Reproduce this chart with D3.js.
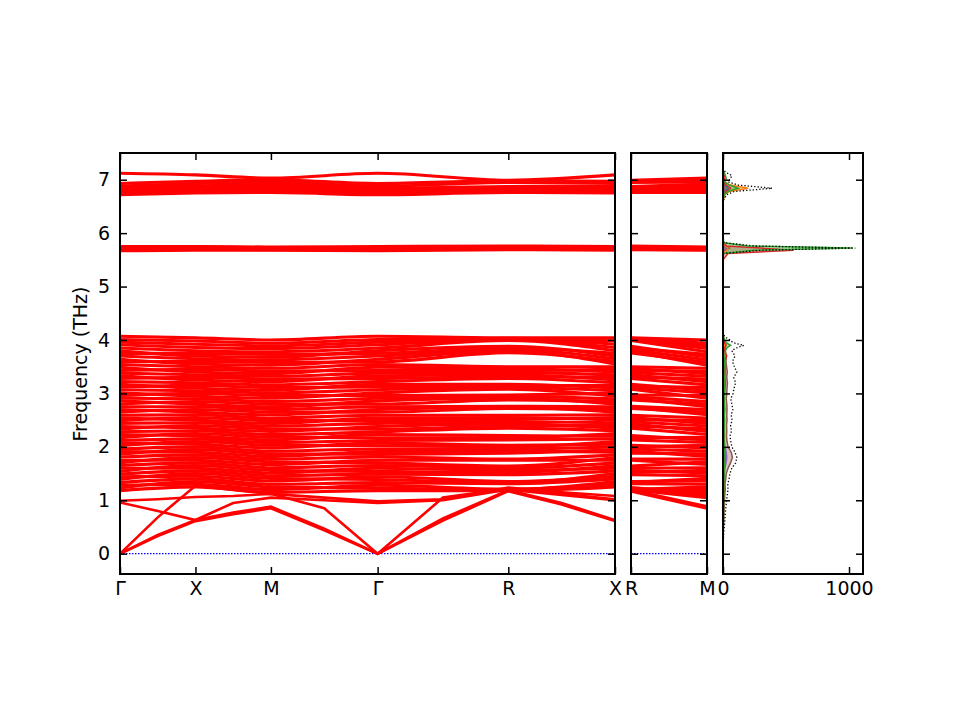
<!DOCTYPE html>
<html>
<head>
<meta charset="utf-8">
<script src="https://cdn.jsdelivr.net/npm/d3@7"></script>
<style>
  body { margin: 0; background: #fff; }
  text { font-family: "DejaVu Sans", sans-serif; }
</style>
</head>
<body>
<script>
// High-symmetry path (cubic cell, path length in units of 2pi/a)
const kLabels = ["Γ", "X", "M", "Γ", "R", "X"];
const kPos = [0, 1, 2, 3.414, 5.146, 6.560];
const kLabels2 = ["R", "M"];
const kPos2 = [0, 1];
const yTicks = [0, 1, 2, 3, 4, 5, 6, 7];
const dosTicks = [0, 1000];

// Band frequencies (THz) at each high-symmetry point, listed by band index
const freqGamma = [
  1.18, 1.23, 1.28, 1.33, 1.39, 1.44, 1.49, 1.54, 1.60, 1.65, 1.70, 1.75, 1.81, 1.86,
  1.91, 1.96, 2.02, 2.07, 2.12, 2.17, 2.23, 2.28, 2.33, 2.38, 2.44, 2.49, 2.54, 2.59,
  2.65, 2.70, 2.75, 2.80, 2.86, 2.91, 2.96, 3.01, 3.07, 3.12, 3.17, 3.22, 3.28, 3.33,
  3.38, 3.43, 3.49, 3.54, 3.59, 3.64, 3.70, 3.75, 3.80, 3.85, 3.91, 3.96, 4.01, 4.07,
  5.67, 5.69, 5.70, 5.72, 5.73, 5.75,
  6.72, 6.75, 6.78, 6.81, 6.84, 6.88, 6.93, 7.12
];
const freqX = [
  1.25, 1.35, 1.30, 1.40, 1.50, 1.45, 1.55, 1.65, 1.60, 1.70, 1.80, 1.75, 1.85, 1.95,
  1.90, 2.00, 2.10, 2.05, 2.15, 2.25, 2.20, 2.30, 2.40, 2.35, 2.45, 2.55, 2.50, 2.60,
  2.70, 2.65, 2.75, 2.85, 2.80, 2.90, 3.00, 2.95, 3.05, 3.15, 3.10, 3.20, 3.30, 3.25,
  3.35, 3.45, 3.40, 3.50, 3.60, 3.55, 3.65, 3.75, 3.70, 3.80, 3.86, 3.92, 3.98, 4.04,
  5.68, 5.70, 5.71, 5.72, 5.74, 5.75,
  6.75, 6.78, 6.81, 6.84, 6.88, 6.93, 6.97, 7.09
];
const freqM = [
  1.15, 1.25, 1.20, 1.30, 1.41, 1.36, 1.46, 1.56, 1.51, 1.61, 1.72, 1.67, 1.77, 1.87,
  1.82, 1.92, 2.03, 1.98, 2.08, 2.18, 2.13, 2.23, 2.34, 2.29, 2.39, 2.49, 2.44, 2.54,
  2.65, 2.60, 2.70, 2.80, 2.75, 2.85, 2.96, 2.91, 3.01, 3.11, 3.06, 3.16, 3.27, 3.22,
  3.32, 3.42, 3.37, 3.47, 3.58, 3.53, 3.63, 3.73, 3.68, 3.78, 3.84, 3.89, 3.94, 4.00,
  5.68, 5.69, 5.71, 5.72, 5.73, 5.74,
  6.76, 6.80, 6.84, 6.88, 6.92, 6.96, 7.00, 7.03
];
const freqR = [
  1.18, 1.20, 1.21, 1.31, 1.33, 1.35, 1.48, 1.52, 1.56, 1.60, 1.64, 1.75, 1.77, 1.88,
  1.92, 1.96, 2.00, 2.03, 2.13, 2.17, 2.21, 2.35, 2.39, 2.43, 2.47, 2.51, 2.55, 2.59,
  2.72, 2.74, 2.76, 2.88, 2.91, 2.94, 2.97, 3.08, 3.11, 3.14, 3.17, 3.28, 3.31, 3.35,
  3.39, 3.43, 3.47, 3.50, 3.76, 3.79, 3.82, 3.85, 3.88, 3.99, 4.01, 4.02, 4.03, 4.04,
  5.69, 5.70, 5.72, 5.73, 5.74, 5.76,
  6.76, 6.78, 6.81, 6.84, 6.87, 6.95, 6.98, 6.99
];

// Acoustic and lowest optical branches, read on a finer k grid
const kFine = [0, 0.5, 1, 1.5, 2, 2.707, 3.414, 4.280, 5.146, 5.853, 6.560];
const lowBands = [
  [0, 0.33, 0.61, 0.74, 0.85, 0.44, 0, 0.62, 1.17, 0.92, 0.61],
  [0, 0.35, 0.63, 0.77, 0.88, 0.47, 0, 0.66, 1.19, 0.95, 0.63],
  [0, 0.68, 1.27, 1.20, 1.12, 0.85, 0, 1.05, 1.22, 1.12, 1.02],
  [0.96, 0.80, 0.63, 0.95, 1.05, 1.00, 0.95, 1.00, 1.20, 1.10, 1.00],
  [0.99, 1.02, 1.06, 1.08, 1.12, 1.05, 0.98, 1.02, 1.24, 1.15, 1.08]
];
const lowBandsRM = [
  [1.17, 0.85], [1.19, 0.88], [1.22, 1.10], [1.20, 1.05], [1.24, 1.12]
];

// Phonon DOS: total (dotted) and partial contributions
const dosFreq = [-0.2, 0, 0.2, 0.4, 0.6, 0.8, 1.0, 1.1, 1.2, 1.3,
  1.4, 1.5, 1.6, 1.7, 1.8, 1.9, 2.0, 2.1, 2.2, 2.3,
  2.4, 2.5, 2.6, 2.7, 2.8, 2.9, 3.0, 3.1, 3.2, 3.3,
  3.4, 3.5, 3.6, 3.7, 3.8, 3.85, 3.9, 3.95, 4.0, 4.05,
  4.1, 4.3, 5.5, 5.62, 5.68, 5.72, 5.76, 5.82, 5.95, 6.6,
  6.72, 6.78, 6.84, 6.9, 6.96, 7.02, 7.08, 7.14, 7.2, 7.4];
const dosTotal = [0, 0, 2, 6, 14, 20, 28, 34, 40, 38,
  48, 55, 70, 100, 110, 95, 70, 62, 55, 68,
  60, 72, 65, 78, 70, 62, 80, 88, 100, 85,
  110, 90, 75, 95, 70, 105, 165, 80, 55, 20,
  3, 0, 0, 5, 300, 1050, 250, 8, 0, 0,
  30, 90, 390, 120, 40, 60, 70, 20, 0, 0];
const dosGreen = [0, 0, 0, 1, 3, 4, 5, 6, 7, 6,
  8, 9, 10, 14, 15, 13, 10, 9, 8, 10,
  9, 11, 10, 12, 10, 9, 12, 14, 16, 13,
  18, 15, 12, 16, 20, 30, 60, 25, 15, 5,
  1, 0, 0, 3, 250, 1030, 200, 5, 0, 0,
  10, 40, 120, 50, 15, 25, 20, 6, 0, 0];
const dosRed = [0, 0, 0, 1, 2, 3, 4, 5, 6, 5,
  7, 8, 10, 14, 16, 14, 10, 9, 8, 10,
  9, 11, 10, 12, 11, 9, 12, 14, 20, 13,
  16, 14, 12, 30, 12, 15, 25, 12, 8, 3,
  0, 0, 0, 40, 560, 300, 30, 2, 0, 0,
  8, 25, 60, 25, 8, 12, 10, 3, 0, 0];
const dosOrange = [0, 0, 0, 0, 1, 1, 2, 2, 3, 3,
  3, 4, 5, 6, 6, 6, 5, 4, 4, 5,
  4, 5, 5, 6, 5, 4, 6, 7, 8, 6,
  8, 7, 6, 8, 6, 8, 12, 6, 4, 1,
  0, 0, 0, 2, 30, 40, 20, 1, 0, 0,
  15, 50, 200, 60, 10, 15, 12, 4, 0, 0];
const dosBrown = [0, 0, 1, 2, 5, 8, 12, 14, 18, 16,
  22, 26, 40, 60, 75, 65, 40, 32, 28, 30,
  28, 32, 30, 32, 30, 26, 30, 32, 35, 30,
  34, 28, 24, 26, 18, 15, 12, 8, 6, 2,
  0, 0, 0, 2, 20, 50, 15, 1, 0, 0,
  3, 8, 15, 8, 3, 5, 6, 2, 0, 0];
const dosPurple = [0, 0, 0, 1, 2, 3, 5, 6, 7, 7,
  9, 11, 16, 24, 30, 26, 16, 12, 10, 11,
  10, 11, 10, 11, 10, 9, 10, 11, 12, 10,
  11, 10, 9, 10, 8, 7, 6, 4, 3, 1,
  0, 0, 0, 1, 10, 20, 8, 0, 0, 0,
  2, 6, 10, 5, 2, 3, 3, 1, 0, 0];
const dosBlue = [0, 0, 0, 1, 1, 2, 3, 4, 4, 4,
  5, 6, 8, 10, 12, 10, 8, 7, 6, 7,
  6, 7, 7, 8, 7, 6, 8, 9, 10, 8,
  9, 8, 7, 8, 6, 7, 10, 5, 3, 1,
  0, 0, 0, 1, 15, 30, 10, 0, 0, 0,
  5, 15, 40, 15, 5, 8, 8, 2, 0, 0];

const partials = [
  { color: "#1f77b4", values: dosBlue },
  { color: "#9467bd", values: dosPurple },
  { color: "#8c564b", values: dosBrown },
  { color: "#ff7f0e", values: dosOrange },
  { color: "#d62728", values: dosRed },
  { color: "#2ca02c", values: dosGreen }
];

const width = 960, height = 720;
const plotTop = 153, plotBottom = 574;
const fontSize = 19;
const bandWidth = 3.1;

const svg = d3.select("body").append("svg")
  .attr("width", width)
  .attr("height", height);

const y = d3.scaleLinear().domain([-0.38, 7.5]).range([plotBottom, plotTop]);
const x1 = d3.scaleLinear().domain([0, 6.560]).range([120, 615]);
const x2 = d3.scaleLinear().domain([0, 1]).range([631, 707]);
const x3 = d3.scaleLinear().domain([0, 1111]).range([723, 863]);

// clip paths for each panel
[["c1", x1], ["c2", x2], ["c3", x3]].forEach(([id, sc]) => {
  svg.append("clipPath").attr("id", id).append("rect")
    .attr("x", sc.range()[0]).attr("y", plotTop)
    .attr("width", sc.range()[1] - sc.range()[0]).attr("height", plotBottom - plotTop);
});

const bandLine = (sx, curve) => d3.line()
  .x(d => sx(d[0]))
  .y(d => y(d[1]))
  .curve(curve);

// Panel 1: band structure Γ-X-M-Γ-R-X
const g1 = svg.append("g").attr("clip-path", "url(#c1)");
const cols = [freqGamma, freqX, freqM, freqGamma, freqR, freqX];
const bands1 = d3.range(freqGamma.length).map(i => kPos.map((k, j) => [k, cols[j][i]]));
const low1 = lowBands.map(b => kFine.map((k, j) => [k, b[j]]));

g1.append("line")
  .attr("x1", x1(0)).attr("x2", x1(6.560))
  .attr("y1", y(0)).attr("y2", y(0))
  .attr("stroke", "#0000ff").attr("stroke-width", 1.2)
  .attr("stroke-dasharray", "1.5,1.5");

g1.selectAll(".band").data(bands1).enter()
  .append("path")
  .attr("class", "band")
  .attr("d", bandLine(x1, d3.curveMonotoneX))
  .attr("fill", "none")
  .attr("stroke", "#ff0000")
  .attr("stroke-width", bandWidth);

g1.selectAll(".low").data(low1).enter()
  .append("path")
  .attr("class", "low")
  .attr("d", bandLine(x1, d3.curveLinear))
  .attr("fill", "none")
  .attr("stroke", "#ff0000")
  .attr("stroke-width", 2.6);

// Panel 2: R-M
const g2 = svg.append("g").attr("clip-path", "url(#c2)");
const bands2 = d3.range(freqR.length).map(i => [[0, freqR[i]], [1, freqM[i]]])
  .concat(lowBandsRM.map(b => [[0, b[0]], [1, b[1]]]));

g2.append("line")
  .attr("x1", x2(0)).attr("x2", x2(1))
  .attr("y1", y(0)).attr("y2", y(0))
  .attr("stroke", "#0000ff").attr("stroke-width", 1.2)
  .attr("stroke-dasharray", "1.5,1.5");

g2.selectAll(".band").data(bands2).enter()
  .append("path")
  .attr("class", "band")
  .attr("d", bandLine(x2, d3.curveLinear))
  .attr("fill", "none")
  .attr("stroke", "#ff0000")
  .attr("stroke-width", bandWidth);

// Panel 3: DOS
const g3 = svg.append("g").attr("clip-path", "url(#c3)");
const dosArea = vals => d3.area()
  .y(d => y(d))
  .x0(x3(0))
  .x1((d, i) => x3(vals[i]))(dosFreq);
const dosLine = vals => d3.line()
  .y(d => y(d))
  .x((d, i) => x3(vals[i]))(dosFreq);

partials.forEach(p => {
  g3.append("path")
    .attr("d", dosArea(p.values))
    .attr("fill", p.color)
    .attr("fill-opacity", 0.35);
});
partials.forEach(p => {
  g3.append("path")
    .attr("d", dosLine(p.values))
    .attr("fill", "none")
    .attr("stroke", p.color)
    .attr("stroke-width", 1.5);
});
g3.append("path")
  .attr("d", dosLine(dosTotal))
  .attr("fill", "none")
  .attr("stroke", "#000")
  .attr("stroke-width", 1.3)
  .attr("stroke-dasharray", "1.3,2");

// Axes and frames
function frame(sx, xTickVals, xTickLabels, showY) {
  const x0 = sx.range()[0], xEnd = sx.range()[1];
  const left = svg.append("g").attr("transform", `translate(${x0},0)`)
    .call(d3.axisLeft(y).tickValues(yTicks).tickSize(-7).tickPadding(10)
      .tickFormat(showY ? d3.format("d") : () => ""));
  const right = svg.append("g").attr("transform", `translate(${xEnd},0)`)
    .call(d3.axisRight(y).tickValues(yTicks).tickSize(-7).tickFormat(() => ""));
  const bot = svg.append("g").attr("transform", `translate(0,${plotBottom})`)
    .call(d3.axisBottom(sx).tickValues(xTickVals).tickSize(-7).tickPadding(8)
      .tickFormat((d, i) => xTickLabels[i]));
  const tp = svg.append("g").attr("transform", `translate(0,${plotTop})`)
    .call(d3.axisTop(sx).tickValues(xTickVals).tickSize(-7).tickFormat(() => ""));
  [left, right, bot, tp].forEach(a => {
    a.select(".domain").remove();
    a.selectAll(".tick line").attr("stroke", "#000").attr("stroke-width", 1.5);
    a.selectAll("text").attr("font-size", fontSize).attr("fill", "#000")
      .attr("font-family", "DejaVu Sans, sans-serif");
  });
  svg.append("rect")
    .attr("x", x0).attr("y", plotTop)
    .attr("width", xEnd - x0).attr("height", plotBottom - plotTop)
    .attr("fill", "none").attr("stroke", "#000").attr("stroke-width", 2);
}

frame(x1, kPos, kLabels, true);
frame(x2, kPos2, kLabels2, false);
frame(x3, dosTicks, dosTicks.map(String), false);

svg.append("text")
  .attr("transform", "translate(87,364) rotate(-90)")
  .attr("text-anchor", "middle")
  .attr("font-size", fontSize)
  .text("Frequency (THz)");
</script>
</body>
</html>
